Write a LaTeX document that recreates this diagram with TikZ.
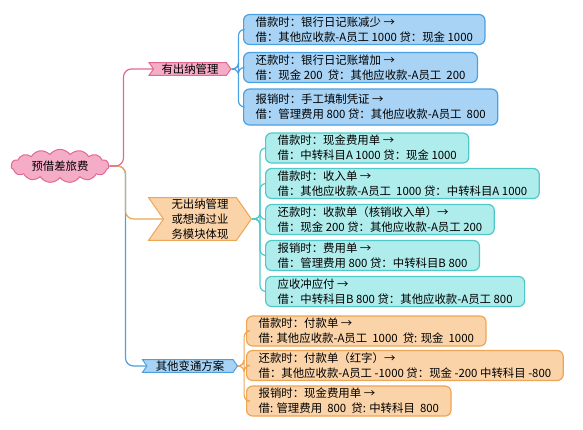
\documentclass[tikz,border=0pt]{standalone}
\usepackage{fontspec}
\setmainfont{Noto Sans CJK SC}
\usetikzlibrary{shapes.symbols, positioning, calc}
\definecolor{pinkfill}{RGB}{245,172,198}
\definecolor{pinkline}{RGB}{226,105,146}
\definecolor{orangefill}{RGB}{250,211,168}
\definecolor{orangeline}{RGB}{238,165,85}
\definecolor{bluefill}{RGB}{168,211,245}
\definecolor{blueline}{RGB}{75,160,225}
\definecolor{cyanfill}{RGB}{175,236,236}
\definecolor{cyanline}{RGB}{80,200,200}
\tikzset{
  leafbox/.style={draw, rounded corners=6pt, line width=1.2pt,
    align=left, anchor=west, inner xsep=12pt, inner ysep=1pt,
    minimum height=30pt, font=\fontsize{11.4}{15}\selectfont},
  bluebox/.style={leafbox, fill=bluefill, draw=blueline},
  cyanbox/.style={leafbox, fill=cyanfill, draw=cyanline},
  orangebox/.style={leafbox, fill=orangefill, draw=orangeline},
  flagnode/.style={signal, signal from=west, signal to=east,
    signal pointer angle=110, draw, line width=1pt, align=center,
    inner xsep=8pt, inner ysep=1pt, font=\fontsize{11.4}{15}\selectfont},
  branch/.style={line width=1.2pt, rounded corners=8pt},
}
\begin{document}
\begin{tikzpicture}[x=1pt, y=-1pt]
  \useasboundingbox (0,0) rectangle (583,429);

  % root and main branches
  \node[cloud, cloud puffs=15, cloud puff arc=110, aspect=3.2,
    draw=pinkline, fill=pinkfill, line width=1pt, inner sep=0pt,
    minimum width=98pt, minimum height=31pt,
    font=\fontsize{11.4}{15}\selectfont] (root) at (60,166) {预借差旅费};
  \node[flagnode, fill=pinkfill, draw=pinkline, minimum width=80pt] (cash) at (190,69) {有出纳管理};
  \node[flagnode, fill=orangefill, draw=orangeline, minimum width=100pt] (module) at (200,219)
    {无出纳管理\\或想通过业\\务模块体现};
  \node[flagnode, fill=bluefill, draw=blueline, minimum width=95pt] (other) at (190,366) {其他变通方案};

  % with cashier
  \node[bluebox] (c1) at (243,29.5) {借款时：银行日记账减少 →\\借：其他应收款-A员工 1000 贷：现金 1000};
  \node[bluebox] (c2) at (243,67.5) {还款时：银行日记账增加 →\\借：现金 200 \ 贷：其他应收款-A员工 \ 200};
  \node[bluebox, minimum height=36pt] (c3) at (243,107) {报销时：手工填制凭证 →\\借：管理费用 800 贷：其他应收款-A员工 \ 800};

  % through business modules
  \node[cyanbox] (m1) at (265,148) {借款时：现金费用单 →\\借：中转科目A 1000 贷：现金 1000};
  \node[cyanbox] (m2) at (265,183.5) {借款时：收入单 →\\借：其他应收款-A员工 \ 1000 贷：中转科目A 1000};
  \node[cyanbox] (m3) at (265,219.5) {还款时：收款单（核销收入单）→\\借：现金 200 贷：其他应收款-A员工 200};
  \node[cyanbox] (m4) at (265,255.5) {报销时：费用单 →\\借：管理费用 800 贷：中转科目B 800};
  \node[cyanbox] (m5) at (265,291.5) {应收冲应付 →\\借：中转科目B 800 贷：其他应收款-A员工 800};

  % other workarounds
  \node[orangebox] (o1) at (246,331) {借款时：付款单 →\\借: 其他应收款-A员工 \ 1000 \ 贷: 现金 \ 1000};
  \node[orangebox] (o2) at (246,365.5) {还款时：付款单（红字）→\\借：其他应收款-A员工 -1000 贷：现金 -200 中转科目 -800};
  \node[orangebox] (o3) at (246,401) {报销时：现金费用单 →\\借: 管理费用 \ 800 \ 贷: 中转科目 \ 800};

  % root connectors
  \draw[branch, blueline] (root.east) -- ++(16,0) |- (other.west);
  \draw[branch, orangeline] (root.east) -- ++(16,0) |- (module.west);
  \draw[branch, pinkline] (root.east) -- ++(14,0) |- (cash.west);

  % brackets
  \foreach \b in {c1,c2,c3}
    \draw[branch, blueline, rounded corners=6pt] (cash.east) -- ++(7,0) |- (\b.west);
  \foreach \b in {m1,m2,m3,m4,m5}
    \draw[branch, cyanline, rounded corners=6pt] (module.east) -- ++(8,0) |- (\b.west);
  \foreach \b in {o1,o2,o3}
    \draw[branch, orangeline, rounded corners=6pt] (other.east) -- ++(6,0) |- (\b.west);
\end{tikzpicture}
\end{document}
